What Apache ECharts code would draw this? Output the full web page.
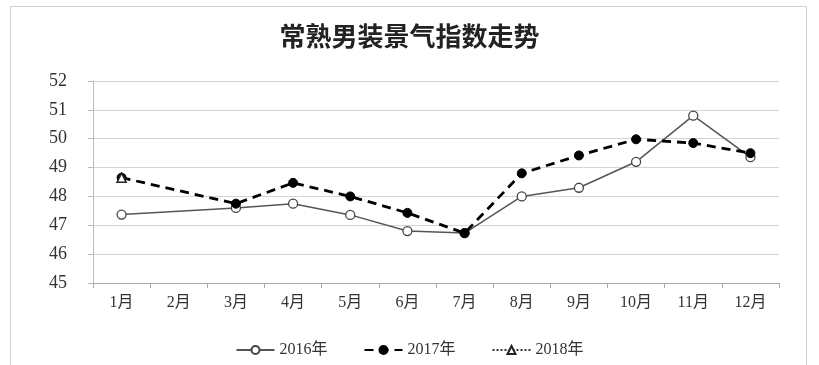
<!DOCTYPE html>
<html><head><meta charset="utf-8">
<script src="https://cdn.jsdelivr.net/npm/echarts@6/dist/echarts.min.js"></script>
<style>html,body{margin:0;padding:0;background:#fff}#c{width:819px;height:365px}</style>
</head><body><div id="c"></div>
<script>
const categories = ['1月','2月','3月','4月','5月','6月','7月','8月','9月','10月','11月','12月'];
const s2016 = [47.37, null, 47.6, 47.75, 47.36, 46.8, 46.73, 48.0, 48.3, 49.2, 50.8, 49.36];
const s2017 = [48.65, null, 47.75, 48.47, 48.0, 47.43, 46.73, 48.8, 49.42, 49.98, 49.85, 49.5];
const s2018 = [48.65, null, null, null, null, null, null, null, null, null, null, null];
const yTicks = [45, 52, 1];
const title = '常熟男装景气指数走势';

const chart = echarts.init(document.getElementById('c'), null, {renderer:'canvas'});
const serif = '"Liberation Serif","Noto Sans CJK SC",serif';
chart.setOption({
  animation:false,
  backgroundColor:'#fff',
  graphic:[{type:'rect', shape:{x:10.5,y:6.5,width:796,height:370}, style:{fill:'none',stroke:'#cfcfcf',lineWidth:1}, z:-1}],
  title:{text:title,left:'center',top:18,textStyle:{fontFamily:'"Noto Sans CJK SC"',fontSize:26,fontWeight:'bold',color:'#222'}},
  legend:{bottom:2,left:'center',itemGap:36,itemWidth:38,itemHeight:10,
    textStyle:{fontFamily:serif,fontSize:16,color:'#333'},
    data:['2016年','2017年','2018年']},
  grid:{left:93,right:40,top:81,bottom:82},
  xAxis:{type:'category',data:categories,boundaryGap:true,
    axisLine:{lineStyle:{color:'#aaa',width:1}},
    axisTick:{show:true,length:5,lineStyle:{color:'#aaa'}},
    axisLabel:{fontFamily:serif,fontSize:16,color:'#333',margin:12}},
  yAxis:{type:'value',min:yTicks[0],max:yTicks[1],interval:yTicks[2],
    axisLine:{show:true,lineStyle:{color:'#bbb'}},
    axisTick:{show:true,length:5,lineStyle:{color:'#bbb'}},
    splitLine:{lineStyle:{color:'#d4d4d4',width:1}},
    axisLabel:{fontFamily:serif,fontSize:18,color:'#333',margin:26}},
  series:[
    {name:'2016年',type:'line',data:s2016,connectNulls:true,symbol:'circle',symbolSize:9,
      lineStyle:{color:'#555',width:1.5,type:'solid'},
      itemStyle:{color:'#fff',borderColor:'#444',borderWidth:1.3},z:2},
    {name:'2017年',type:'line',data:s2017,connectNulls:true,symbol:'circle',symbolSize:9,
      lineStyle:{color:'#000',width:2.8,type:[9,6]},
      itemStyle:{color:'#000',borderColor:'#000',borderWidth:1},z:3},
    {name:'2018年',type:'line',data:s2018,symbol:'triangle',symbolSize:9,
      lineStyle:{color:'#333',width:1.5,type:'dotted'},
      itemStyle:{color:'#fff',borderColor:'#222',borderWidth:1.5},z:4}
  ]
});
</script></body></html>
